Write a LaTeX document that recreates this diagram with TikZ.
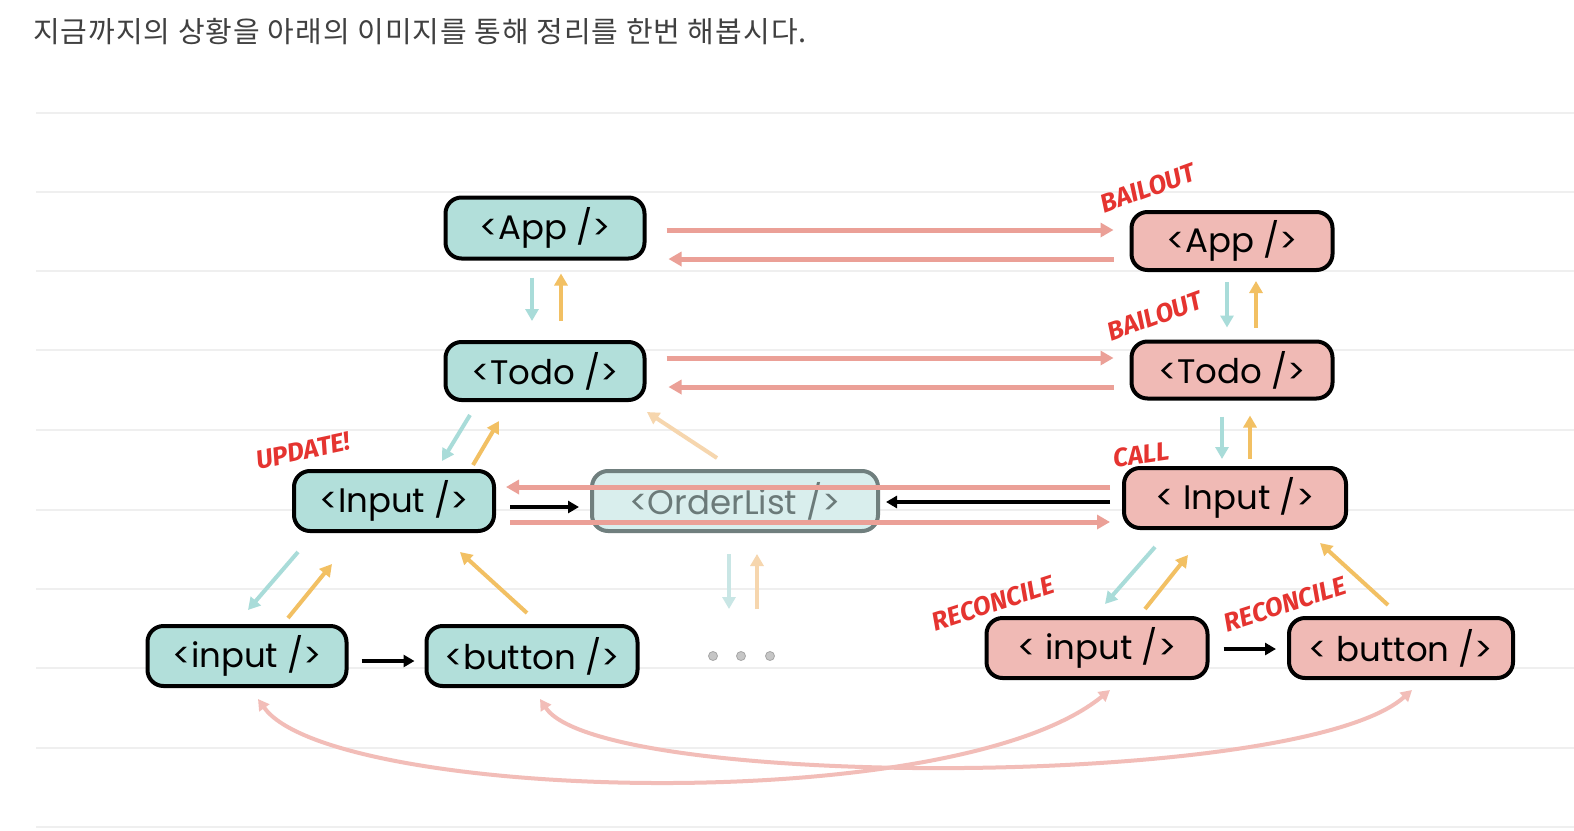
\documentclass[tikz,border=0pt]{standalone}
\usepackage{fontspec}
\setmainfont{Poppins}
\newfontfamily\labfont{Fira Sans}
\newfontfamily\cjkfont[LetterSpace=3.5]{Noto Sans CJK KR}
\usetikzlibrary{arrows.meta,calc}
\definecolor{tealfill}{HTML}{B2DFDA}
\definecolor{pinkfill}{HTML}{F0BAB5}
\definecolor{redarrow}{HTML}{EBA097}
\definecolor{tealarrow}{HTML}{A9DCD9}
\definecolor{yelarrow}{HTML}{F2C063}
\definecolor{fadeyel}{HTML}{F6D6AE}
\definecolor{fadeteal}{HTML}{C9E6E5}
\definecolor{ordfill}{HTML}{D9EEED}
\definecolor{ordline}{HTML}{707F7E}
\definecolor{ordtext}{HTML}{6B7A79}
\definecolor{labred}{HTML}{E53430}
\definecolor{gridline}{HTML}{EFEFEF}
\definecolor{curvecol}{HTML}{F2BDB8}
\definecolor{toptext}{HTML}{404040}
\tikzset{
  box/.style={draw=black, line width=4pt, rounded corners=16pt, inner sep=0pt,
    minimum height=60pt, font=\fontsize{34}{34}\selectfont},
  tealbox/.style={box, fill=tealfill},
  pinkbox/.style={box, fill=pinkfill},
  ordbox/.style={box, draw=ordline, fill=ordfill, text=ordtext},
  redarr/.style={draw=redarrow, line width=5pt, -{Triangle[length=13pt,width=14pt]}},
  tealarr/.style={draw=tealarrow, line width=4pt, -{Triangle[length=12pt,width=13pt]}},
  yelarr/.style={draw=yelarrow, line width=4pt, -{Triangle[length=12pt,width=13pt]}},
  blkarr/.style={draw=black, line width=3.5pt, -{Triangle[length=11pt,width=12pt]}},
  curvearr/.style={draw=curvecol, line width=4pt, {Triangle[length=11pt,width=12pt]}-{Triangle[length=11pt,width=12pt]}},
  lab/.style={text=labred, font=\labfont\bfseries\itshape\fontsize{26}{26}\selectfont, inner sep=0pt},
  dot/.style={circle, fill=gray!45, draw=gray!70, line width=0.8pt, minimum size=9pt, inner sep=0pt}
}
\begin{document}
\begin{tikzpicture}[x=1pt,y=-1pt]
\useasboundingbox[fill=white] (0,0) rectangle (1574,830);
% background rule lines
\foreach \yy in {113,192,271,350,430,510,589,668,748,827}
  \draw[gridline, line width=1.5pt] (36,\yy) -- (1574,\yy);
% heading
\node[anchor=west, inner sep=0pt, text=toptext, font=\cjkfont\fontsize{29}{29}\selectfont] (title) at (33,32) {지금까지의 상황을 아래의 이미지를 통해 정리를 한번 해봅시다.};
% nodes
\node[tealbox, minimum width=199pt, minimum height=61pt] (appL) at (545,228) {<App />};
\node[pinkbox, minimum width=201pt, minimum height=58pt] (appR) at (1232,241) {<App />};
\node[tealbox, minimum width=199pt, minimum height=58pt] (todoL) at (545,371) {<Todo />};
\node[pinkbox, minimum width=201pt, minimum height=57pt] (todoR) at (1232,370) {<Todo />};
\node[tealbox, minimum width=200pt] (inputL) at (394,501) {<Input />};
\node[ordbox, minimum width=286pt] (order) at (735,501) {<OrderList />};
\node[pinkbox, minimum width=222pt] (inputR) at (1235,498) {< Input />};
\node[tealbox, minimum width=199pt] (inL) at (247,656) {<input />};
\node[tealbox, minimum width=211pt] (btnL) at (532,656) {<button />};
\node[pinkbox, minimum width=221pt] (inR) at (1097,648) {< input />};
\node[pinkbox, minimum width=224pt] (btnR) at (1401,648) {< button />};
\node[dot] (d1) at (713,656) {};
\node[dot] (dots) at (741,656) {};
\node[dot] (d3) at (770,656) {};
% App <-> App, Todo <-> Todo
\draw[redarr] ($(appL.east)+(20,2)$) -- ($(appR.west)+(-16,-11)$);
\draw[redarr] ($(appR.west)+(-16,18)$) -- ($(appL.east)+(22,31)$);
\draw[redarr] ($(todoL.east)+(20,-13)$) -- ($(todoR.west)+(-16,-12)$);
\draw[redarr] ($(todoR.west)+(-16,17)$) -- ($(todoL.east)+(22,16)$);
% App <-> Todo
\draw[tealarr] ($(appL.south)+(-13,17)$) -- ($(todoL.north)+(-13,-19)$);
\draw[yelarr] ($(todoL.north)+(16,-19)$) -- ($(appL.south)+(16,13)$);
\draw[tealarr] ($(appR.south)+(-5,10)$) -- ($(todoR.north)+(-5,-12)$);
\draw[yelarr] ($(todoR.north)+(24,-12)$) -- ($(appR.south)+(24,9)$);
% Todo <-> Input
\draw[tealarr] ($(todoR.south)+(-10,16)$) -- ($(inputR.north)+(-13,-7)$);
\draw[yelarr] ($(inputR.north)+(15,-7)$) -- ($(todoR.south)+(18,15)$);
\draw[tealarr] ($(todoL.south)+(-75,13)$) -- ($(inputL.north)+(48,-8)$);
\draw[yelarr] ($(inputL.north)+(79,-4)$) -- ($(todoL.south)+(-46,19)$);
\draw[draw=fadeyel, line width=4pt, -{Triangle[length=12pt,width=13pt]}] ($(order.north)+(-18,-11)$) -- ($(todoL.south)+(102,10)$);
% Input row
\draw[blkarr] ($(inputL.east)+(14,6)$) -- ($(order.west)+(-11,6)$);
\draw[blkarr] ($(inputR.west)+(-12,4)$) -- ($(order.east)+(6,1)$);
\draw[redarr] ($(inputR.west)+(-12,-11)$) -- ($(inputL.east)+(10,-14)$);
\draw[redarr] ($(inputL.east)+(14,21)$) -- ($(inputR.west)+(-12,24)$);
% Input left children
\draw[tealarr] ($(inputL.south)+(-96,19)$) -- ($(inL.north)+(1,-14)$);
\draw[yelarr] ($(inL.north)+(41,-6)$) -- ($(inputL.south)+(-62,31)$);
\draw[yelarr] ($(btnL.north)+(-5,-11)$) -- ($(inputL.south)+(66,19)$);
\draw[blkarr] ($(inL.east)+(13,5)$) -- ($(btnL.west)+(-10,5)$);
% OrderList children (faded)
\draw[draw=fadeteal, line width=4pt, -{Triangle[length=12pt,width=13pt]}] ($(order.south)+(-6,21)$) -- ($(dots.center)+(-12,-47)$);
\draw[draw=fadeyel, line width=4pt, -{Triangle[length=12pt,width=13pt]}] ($(dots.center)+(16,-47)$) -- ($(order.south)+(22,21)$);
% Input right children
\draw[tealarr] ($(inputR.south)+(-80,17)$) -- ($(inR.north)+(8,-12)$);
\draw[yelarr] ($(inR.north)+(48,-7)$) -- ($(inputR.south)+(-47,25)$);
\draw[yelarr] ($(btnR.north)+(-13,-11)$) -- ($(inputR.south)+(85,13)$);
\draw[blkarr] ($(inR.east)+(14,1)$) -- ($(btnR.west)+(-11,1)$);
% bottom curves
\draw[curvearr] ($(inL.south)+(11,11)$) .. controls (330,800) and (950,820) .. ($(inR.south)+(13,10)$);
\draw[curvearr] ($(btnL.south)+(8,11)$) .. controls (600,790) and (1300,790) .. ($(btnR.south)+(11,10)$);
% labels
\node[lab, rotate=20] (bail1) at (1148,188) {BAILOUT};
\node[lab, rotate=20] (bail2) at (1155,316) {BAILOUT};
\node[lab, rotate=12] (upd) at (303,451) {UPDATE!};
\node[lab, rotate=8] (call) at (1141,455) {CALL};
\node[lab, rotate=18] (rec1) at (993,603) {RECONCILE};
\node[lab, rotate=18] (rec2) at (1285,604) {RECONCILE};
\end{tikzpicture}
\end{document}
